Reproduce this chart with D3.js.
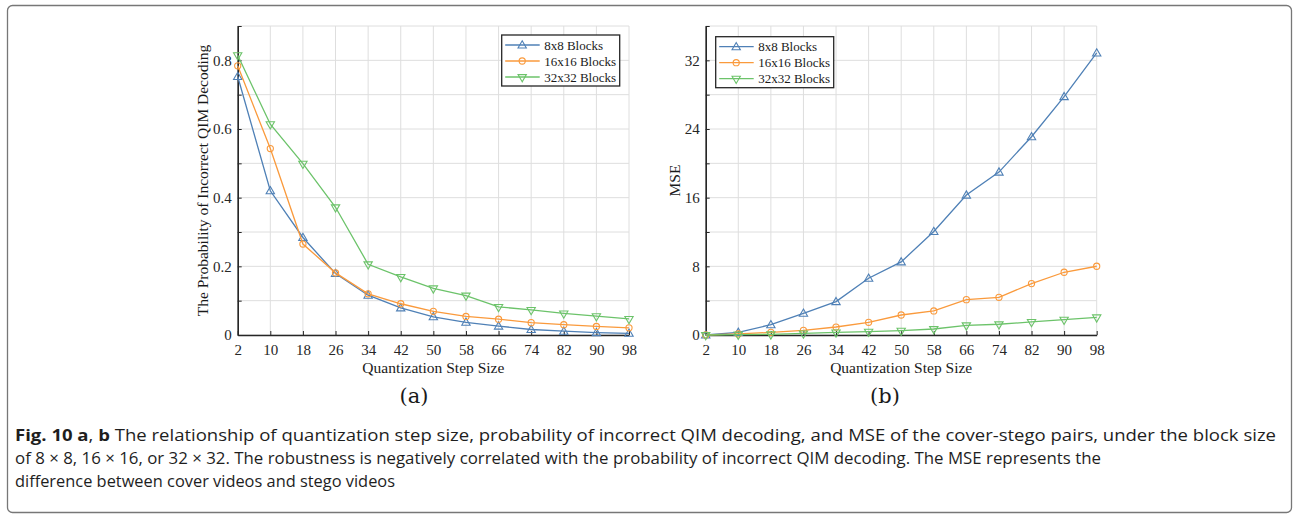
<!DOCTYPE html>
<html>
<head>
<meta charset="utf-8">
<script src="https://cdn.jsdelivr.net/npm/d3@7"></script>
<style>
  html, body { margin: 0; padding: 0; background: #fff; }
  svg { display: block; }
  .tick text { font-family: "Liberation Serif", "Times New Roman", serif; }
</style>
</head>
<body>
<svg id="fig" width="1294" height="514"></svg>
<script>
// Quantization step sizes shared by both panels
const steps = [2, 10, 18, 26, 34, 42, 50, 58, 66, 74, 82, 90, 98];
const seriesNames = ["8x8 Blocks", "16x16 Blocks", "32x32 Blocks"];

// Panel (a): probability of incorrect QIM decoding
const probBlock8  = [0.753, 0.420, 0.284, 0.179, 0.116, 0.079, 0.053, 0.037, 0.026, 0.016, 0.011, 0.007, 0.005];
const probBlock16 = [0.784, 0.543, 0.265, 0.181, 0.120, 0.091, 0.069, 0.054, 0.046, 0.036, 0.030, 0.025, 0.021];
const probBlock32 = [0.815, 0.614, 0.499, 0.372, 0.206, 0.169, 0.136, 0.115, 0.082, 0.073, 0.063, 0.055, 0.047];

// Panel (b): MSE of the cover-stego pairs
const mseBlock8  = [0.0, 0.31, 1.2, 2.53, 3.89, 6.61, 8.52, 12.06, 16.3, 18.98, 23.1, 27.77, 32.86];
const mseBlock16 = [0.0, 0.12, 0.31, 0.54, 0.93, 1.48, 2.33, 2.8, 4.12, 4.39, 5.99, 7.31, 8.01];
const mseBlock32 = [0.0, 0.05, 0.08, 0.19, 0.31, 0.39, 0.51, 0.70, 1.13, 1.25, 1.52, 1.79, 2.06];

// Axis ticks
const probTicks = [0, 0.1, 0.2, 0.3, 0.4, 0.5, 0.6, 0.7, 0.8, 0.9];
const probLabels = [0, 0.2, 0.4, 0.6, 0.8];
const mseTicks = [0, 4, 8, 12, 16, 20, 24, 28, 32, 36];
const mseLabels = [0, 8, 16, 24, 32];

const colors = ["#4f80b6", "#fa9a3c", "#6cc36a"];
const markers = ["up", "circle", "down"];

const svg = d3.select("#fig");
const serif = '"Liberation Serif", "Times New Roman", serif';

// outer rounded frame
svg.append("rect")
  .attr("x", 7.5).attr("y", 5.5)
  .attr("width", 1284).attr("height", 507)
  .attr("rx", 5).attr("ry", 5)
  .attr("fill", "none").attr("stroke", "#777").attr("stroke-width", 1.3);

function markerPath(kind) {
  if (kind === "circle") return d3.symbol().type(d3.symbolCircle).size(30)();
  return d3.symbol().type(d3.symbolTriangle).size(30)();
}

function drawMarker(g, kind, x, y, color) {
  g.append("path")
    .attr("d", markerPath(kind))
    .attr("transform", `translate(${x},${y})` + (kind === "down" ? " rotate(180)" : (kind === "up" ? " translate(0,0.6)" : "")))
    .attr("fill", "none")
    .attr("stroke", color)
    .attr("stroke-width", 1.1);
}

function panel(cfg) {
  const x = d3.scaleLinear().domain([2, 98]).range([cfg.left, cfg.right]);
  const y = d3.scaleLinear().domain(cfg.yDomain).range([cfg.bottom, cfg.top]);
  const g = svg.append("g");

  // grid
  g.append("g").selectAll("line").data(steps).join("line")
    .attr("x1", d => x(d)).attr("x2", d => x(d))
    .attr("y1", cfg.bottom).attr("y2", cfg.top)
    .attr("stroke", "#dedede").attr("stroke-width", 1);
  g.append("g").selectAll("line").data(cfg.yTicks).join("line")
    .attr("x1", cfg.left).attr("x2", cfg.right)
    .attr("y1", d => y(d)).attr("y2", d => y(d))
    .attr("stroke", "#dedede").attr("stroke-width", 1);

  // axes
  const xAxis = d3.axisBottom(x).tickValues(steps).tickSizeInner(-4).tickSizeOuter(0).tickPadding(9).tickFormat(d3.format("d"));
  const yAxis = d3.axisLeft(y).tickValues(cfg.yTicks).tickSizeInner(-4).tickSizeOuter(0).tickPadding(6)
    .tickFormat(d => cfg.yLabels.some(v => Math.abs(v - d) < 1e-9) ? cfg.fmt(d) : "");

  const gx = g.append("g").attr("transform", `translate(0,${cfg.bottom})`).call(xAxis);
  const gy = g.append("g").attr("transform", `translate(${cfg.left},0)`).call(yAxis);
  [gx, gy].forEach(a => {
    a.select(".domain").attr("stroke", "#262626").attr("stroke-width", 1.6);
    a.selectAll(".tick line").attr("stroke", "#262626").attr("stroke-width", 1);
    a.selectAll(".tick text").attr("fill", "#262626").style("font-size", "15px").style("font-family", serif);
  });

  // series lines and markers
  cfg.series.forEach((vals, i) => {
    const pts = steps.map((s, k) => [x(s), y(vals[k])]);
    g.append("path")
      .attr("d", d3.line()(pts))
      .attr("fill", "none").attr("stroke", colors[i]).attr("stroke-width", 1.3);
    const mg = g.append("g");
    pts.forEach(p => drawMarker(mg, markers[i], p[0], p[1], colors[i]));
  });

  // axis titles
  g.append("text")
    .attr("x", (cfg.left + cfg.right) / 2).attr("y", 373)
    .attr("text-anchor", "middle")
    .style("font-family", serif).style("font-size", "15.5px").attr("fill", "#1a1a1a")
    .text("Quantization Step Size");
  g.append("text")
    .attr("transform", `translate(${cfg.yTitleX},${(cfg.top + cfg.bottom) / 2}) rotate(-90)`)
    .attr("text-anchor", "middle")
    .style("font-family", serif).style("font-size", "15.5px").attr("fill", "#1a1a1a")
    .text(cfg.yTitle);

  // sub-figure tag
  g.append("text")
    .attr("x", cfg.tagX).attr("y", 403)
    .attr("text-anchor", "middle")
    .style("font-family", '"DejaVu Serif", "Liberation Serif", serif').style("font-size", "21px").attr("fill", "#1a1a1a")
    .text(cfg.tag);

  // legend
  const lg = g.append("g");
  lg.append("rect")
    .attr("x", cfg.legX).attr("y", cfg.legY)
    .attr("width", 118).attr("height", 51)
    .attr("fill", "#fff").attr("stroke", "#262626").attr("stroke-width", 1.3);
  seriesNames.forEach((name, i) => {
    const ry = cfg.legY + 10 + i * 16;
    lg.append("line")
      .attr("x1", cfg.legX + 3.5).attr("x2", cfg.legX + 38)
      .attr("y1", ry).attr("y2", ry)
      .attr("stroke", colors[i]).attr("stroke-width", 1.3);
    drawMarker(lg, markers[i], cfg.legX + 20.5, ry, colors[i]);
    lg.append("text")
      .attr("x", cfg.legX + 42.5).attr("y", ry + 4.5)
      .style("font-family", serif).style("font-size", "13px").attr("fill", "#1a1a1a")
      .text(name);
  });
}

panel({
  left: 237.7, right: 629, top: 26, bottom: 335,
  yDomain: [0, 0.9], yTicks: probTicks, yLabels: probLabels,
  fmt: d => d === 0 ? "0" : d3.format(".1f")(d),
  series: [probBlock8, probBlock16, probBlock32],
  yTitle: "The Probability of Incorrect QIM Decoding", yTitleX: 208,
  tag: "(a)", tagX: 414,
  legX: 501.7, legY: 35
});

panel({
  left: 705.7, right: 1096.7, top: 26, bottom: 335,
  yDomain: [0, 36], yTicks: mseTicks, yLabels: mseLabels,
  fmt: d3.format("d"),
  series: [mseBlock8, mseBlock16, mseBlock32],
  yTitle: "MSE", yTitleX: 680,
  tag: "(b)", tagX: 885,
  legX: 715.7, legY: 36.7
});

// caption
const capFont = '"Open Sans", "Noto Sans", sans-serif';
const cap = svg.append("g").style("font-family", capFont).style("font-size", "15.5px").attr("fill", "#1e1e1e");
const l1 = cap.append("text").attr("x", 15).attr("y", 441)
  .attr("textLength", 1261).attr("lengthAdjust", "spacingAndGlyphs");
l1.append("tspan").style("font-weight", "bold").text("Fig. 10 a");
l1.append("tspan").text(", ");
l1.append("tspan").style("font-weight", "bold").text("b");
l1.append("tspan").text(" The relationship of quantization step size, probability of incorrect QIM decoding, and MSE of the cover-stego pairs, under the block size");
cap.append("text").attr("x", 15).attr("y", 464)
  .attr("textLength", 1086).attr("lengthAdjust", "spacingAndGlyphs")
  .text("of 8 \u00d7 8, 16 \u00d7 16, or 32 \u00d7 32. The robustness is negatively correlated with the probability of incorrect QIM decoding. The MSE represents the");
cap.append("text").attr("x", 15).attr("y", 487)
  .attr("textLength", 380).attr("lengthAdjust", "spacingAndGlyphs")
  .text("difference between cover videos and stego videos");
</script>
</body>
</html>
